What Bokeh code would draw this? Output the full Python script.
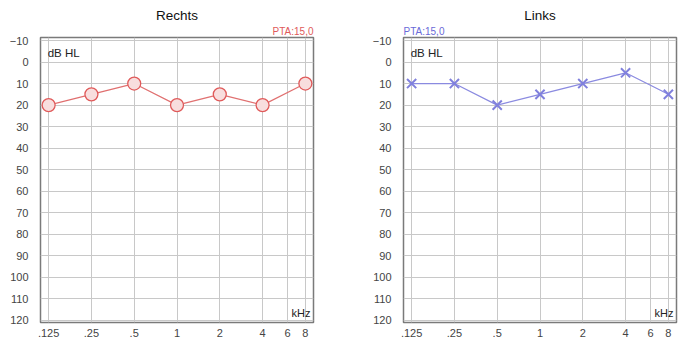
from bokeh.plotting import figure
from bokeh.layouts import row
from bokeh.models import Range1d, FixedTicker, CustomJSTickFormatter, Label, Title
from bokeh.embed import file_html
from bokeh.resources import INLINE

freqs = [0.125, 0.25, 0.5, 1, 2, 4, 8]
right_db = [20, 15, 10, 20, 15, 20, 10]
left_db = [10, 10, 20, 15, 10, 5, 15]
x_ticks = [0.125, 0.25, 0.5, 1, 2, 4, 6, 8]
x_tick_labels = [".125", ".25", ".5", "1", "2", "4", "6", "8"]
y_ticks = list(range(-10, 121, 10))
pta_right = "PTA:15,0"
pta_left = "PTA:15,0"

FONT = "Liberation Sans"
XR = (0.125 * 2 ** -0.19, 8 * 2 ** 0.19)
YR = (121.0, -11.4)

label_map = {str(t): l for t, l in zip(x_ticks, x_tick_labels)}
js_map = "{" + ",".join('"%s":"%s"' % (k, v) for k, v in label_map.items()) + "}"


def make(width, bl, br, title, pta, pta_color, pta_align):
    p = figure(width=width, height=342, x_axis_type="log",
               x_range=Range1d(*XR), y_range=Range1d(*YR),
               output_backend="svg", toolbar_location=None,
               min_border_left=bl, min_border_right=br,
               min_border_top=37, min_border_bottom=20)
    p.outline_line_color = "#7a7a7a"
    p.outline_line_width = 1.5
    p.background_fill_color = "white"
    p.border_fill_color = "white"
    for ax in (p.xaxis[0], p.yaxis[0]):
        ax.axis_line_color = None
        ax.major_tick_line_color = None
        ax.minor_tick_line_color = None
        ax.major_label_text_font = FONT
        ax.major_label_text_font_size = "11px"
        ax.major_label_text_color = "#444444"
    p.xaxis.ticker = FixedTicker(ticks=x_ticks)
    p.xaxis.formatter = CustomJSTickFormatter(code="const m=%s; const s=String(tick); return (s in m) ? m[s] : s;" % js_map)
    p.xaxis.major_label_standoff = 0
    p.yaxis.ticker = FixedTicker(ticks=y_ticks)
    p.yaxis.major_label_standoff = 6
    p.xgrid.ticker = FixedTicker(ticks=x_ticks)
    p.ygrid.ticker = FixedTicker(ticks=y_ticks)
    for g in (p.xgrid[0], p.ygrid[0]):
        g.grid_line_color = "#c8c8c8"
        g.grid_line_width = 1

    p.title.text = title
    p.title.align = "center"
    p.title.text_font = FONT
    p.title.text_font_size = "13.5px"
    p.title.text_font_style = "normal"
    p.title.text_color = "#111111"
    p.title.standoff = 0
    p.add_layout(Title(text=pta, align=pta_align, text_font=FONT, text_font_size="10px",
                       text_font_style="normal", text_color=pta_color, standoff=2,
                       text_line_height=0.6), "above")

    p.add_layout(Label(x=0.125, y=-4, x_offset=-1, text="dB HL", text_align="left",
                       text_baseline="middle", text_font=FONT, text_font_size="11.5px",
                       text_color="#222222"))
    p.add_layout(Label(x=XR[1], y=116.5, x_offset=-3, text="kHz", text_align="right",
                       text_baseline="middle", text_font=FONT, text_font_size="11px",
                       text_color="#222222"))
    return p


p1 = make(340, 40, 27, "Rechts", pta_right, "#e05a5a", "right")
p1.line(freqs, right_db, line_color="#e07070", line_width=1.2)
p1.scatter(freqs, right_db, marker="circle", size=13, line_color="#e05a5a",
           fill_color="#f8dede", line_width=1.3)

p2 = make(338, 63, 2, "Links", pta_left, "#6a6ad8", "left")
p2.line(freqs, left_db, line_color="#8a8ae0", line_width=1.2)
p2.scatter(freqs, left_db, marker="x", size=13, line_color="#8080dd", line_width=2)

layout = row(p1, p2, spacing=0)
open("out.html", "w").write(file_html(layout, INLINE))
